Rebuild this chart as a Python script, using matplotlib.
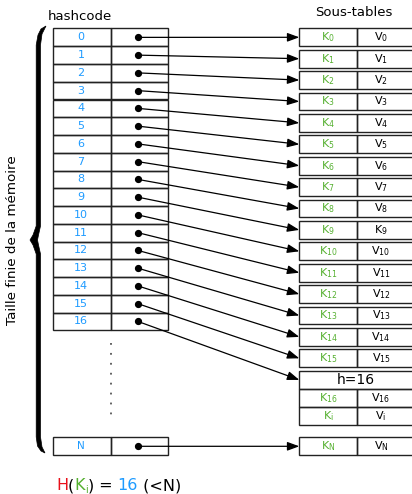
import matplotlib.pyplot as plt
from matplotlib.patches import Rectangle, Polygon

# data
hashcodes = [str(i) for i in range(17)]
keys = [r'$\mathrm{K}_{%d}$' % i for i in range(16)]
values = [r'$\mathrm{V}_{%d}$' % i for i in range(16)]
values[9] = r'$\mathrm{K}_{9}$'   # as in the original figure
bucket_keys = [r'$\mathrm{K}_{16}$', r'$\mathrm{K}_{\mathrm{i}}$']
bucket_values = [r'$\mathrm{V}_{16}$', r'$\mathrm{V}_{\mathrm{i}}$']
bucket_title = 'h=16'
last_code = 'N'
last_key = r'$\mathrm{K}_{\mathrm{N}}$'
last_value = r'$\mathrm{V}_{\mathrm{N}}$'

BLUE = '#1e9bff'
GREEN = '#55b030'
RED = '#e8101a'
EDGE = '#222222'

fig = plt.figure(figsize=(4.12, 4.94), dpi=100)
ax = fig.add_axes([0, 0, 1, 1])
ax.set_xlim(0, 412)
ax.set_ylim(494, 0)
ax.axis('off')

# left table layout
lx0, lx1, lx2 = 53, 111, 168
ltop, lh = 28.5, 17.75
dot_x = 137.7
# right table layout
rx0, rx1, rx2 = 299.3, 357, 414
rtop, rstep, rh = 28.4, 21.4, 17.8
kv_fs = 8


def cell(x0, x1, y0, h, lw=1.0):
    ax.add_patch(Rectangle((x0, y0), x1 - x0, h, fill=False, ec=EDGE, lw=lw))


def arrow(y_from, y_to):
    ax.plot(dot_x, y_from, 'o', ms=4.2, color='black')
    ax.annotate('', xy=(rx0, y_to), xytext=(dot_x, y_from),
                arrowprops=dict(arrowstyle='-|>,head_length=0.6,head_width=0.22',
                                color='black', lw=0.9, mutation_scale=12,
                                shrinkA=0, shrinkB=0))


# left hash table
for i, code in enumerate(hashcodes):
    y0 = ltop + i * lh
    cell(lx0, lx1, y0, lh)
    cell(lx1, lx2, y0, lh)
    ax.text(81, y0 + lh / 2, code, color=BLUE, fontsize=8, ha='center', va='center')

# N row
ny0, nh = 437.3, 18
cell(lx0, lx1, ny0, nh)
cell(lx1, lx2, ny0, nh)
ax.text(81, ny0 + nh / 2, last_code, color=BLUE, fontsize=7.5, ha='center', va='center')

# dotted gap
ax.plot([lx1, lx1], [343, 422], color='#555555', lw=1.3, ls=(0, (1, 4.5)))

# right sub-tables
for i, (k, v) in enumerate(zip(keys, values)):
    y0 = rtop + i * rstep
    cell(rx0, rx1, y0, rh)
    cell(rx1, rx2, y0, rh)
    ax.text(328, y0 + rh / 2, k, color=GREEN, fontsize=kv_fs, ha='center', va='center')
    ax.text(381, y0 + rh / 2, v, color='black', fontsize=kv_fs, ha='center', va='center')
    arrow(ltop + i * lh + lh / 2, y0 + rh / 2)

# bucket for h=16 with several entries
by0 = rtop + 16 * rstep
cell(rx0, rx2, by0, 18.2)
ax.text(356, by0 + 9.3, bucket_title, fontsize=10, ha='center', va='center')
for j, (k, v) in enumerate(zip(bucket_keys, bucket_values)):
    y0 = by0 + 18.2 + j * 17.9
    cell(rx0, rx1, y0, 17.9)
    cell(rx1, rx2, y0, 17.9)
    ax.text(328, y0 + 9, k, color=GREEN, fontsize=kv_fs, ha='center', va='center')
    ax.text(381, y0 + 9, v, color='black', fontsize=kv_fs, ha='center', va='center')
arrow(ltop + 16 * lh + lh / 2, by0 + 9.1)

# N entry
cell(rx0, rx1, ny0, nh)
cell(rx1, rx2, ny0, nh)
ax.text(328, ny0 + nh / 2, last_key, color=GREEN, fontsize=kv_fs, ha='center', va='center')
ax.text(381, ny0 + nh / 2, last_value, color='black', fontsize=kv_fs, ha='center', va='center')
arrow(ny0 + nh / 2, ny0 + nh / 2)

# titles
ax.text(80, 17, 'hashcode', fontsize=9.5, ha='center', va='center')
ax.text(354, 12, 'Sous-tables', fontsize=9.5, ha='center', va='center')
ax.text(13, 240, 'Taille finie de la mémoire', fontsize=9.7, rotation=90,
        ha='center', va='center')

# curly brace
left = [(46, 26), (41, 29), (38, 35), (36.2, 45), (36.2, 226), (33, 235), (30, 240),
        (33, 245), (36.2, 254), (36.2, 437), (37.5, 446), (41, 451), (45, 453)]
right = [(45, 453), (42, 447), (40.5, 437), (40.5, 254), (38.5, 245), (37.5, 240),
         (38.5, 235), (40.5, 226), (40.5, 45), (42, 34), (46, 26)]
ax.add_patch(Polygon(left + right, closed=True, fc='black', ec='black', lw=0.5))

# formula H(Ki) = 16 (<N)
fig.canvas.draw()
renderer = fig.canvas.get_renderer()
pieces = [('H', RED, 11.5, 0), ('(', 'black', 11.5, 0), ('K', GREEN, 11.5, 0),
          ('i', GREEN, 7, 3), (')', 'black', 11.5, 0), (' = ', 'black', 11.5, 0),
          ('16', BLUE, 11.5, 0), (' (<N)', 'black', 11.5, 0)]
x = 56
base = 490
inv = ax.transData.inverted()
for s, c, fs, dy in pieces:
    t = ax.text(x, base + dy, s, color=c, fontsize=fs, ha='left', va='baseline')
    bb = t.get_window_extent(renderer)
    x0d = inv.transform((bb.x0, 0))[0]
    x1d = inv.transform((bb.x1, 0))[0]
    x += x1d - x0d

fig.savefig('out.png', dpi=100)
